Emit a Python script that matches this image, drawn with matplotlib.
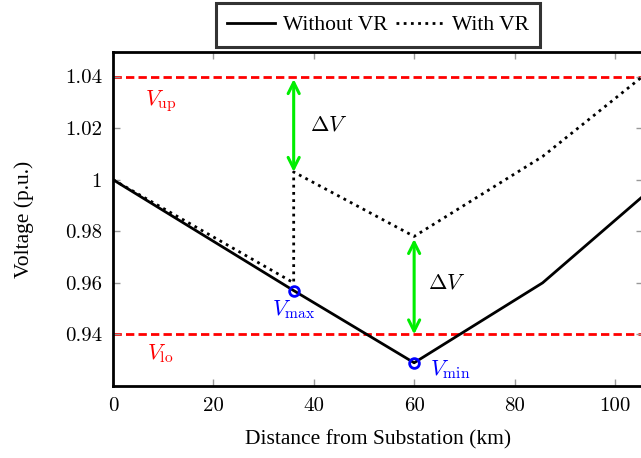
import matplotlib
matplotlib.use("Agg")
import matplotlib.pyplot as plt

plt.rcParams['font.family'] = ['Liberation Serif', 'DejaVu Serif']
plt.rcParams['mathtext.fontset'] = 'cm'

# Data
x_without = [0, 36, 60, 85.6, 110]
v_without = [1.0, 0.957, 0.929, 0.960, 1.001]
x_with = [0, 36, 36, 60, 85.6, 110]
v_with = [1.0, 0.960, 1.003, 0.978, 1.009, 1.047]
v_up = 1.04
v_lo = 0.94
vmax_pt = (36, 0.957)
vmin_pt = (60, 0.929)
xticks = [0, 20, 40, 60, 80, 100]
yticks = [0.94, 0.96, 0.98, 1.0, 1.02, 1.04]
ytick_labels = ['0.94', '0.96', '0.98', '1', '1.02', '1.04']

fig = plt.figure(figsize=(6.41, 4.58), dpi=100)
ax = fig.add_axes([113/641, 1-386/458, 530/641, 334/458])

ax.axhline(v_up, color='red', ls=(0, (3, 1.5)), lw=2, zorder=1)
ax.axhline(v_lo, color='red', ls=(0, (3, 1.5)), lw=2, zorder=1)

l1, = ax.plot(x_without, v_without, color='black', lw=2, label='Without VR', zorder=3)
l2, = ax.plot(x_with, v_with, color='black', lw=2, ls=(0, (1, 1.6)), label='With VR', zorder=3)

ax.plot(*vmax_pt, 'o', ms=7, mfc='none', mec='blue', mew=2, zorder=4)
ax.plot(*vmin_pt, 'o', ms=7, mfc='none', mec='blue', mew=2, zorder=4)

# arrows
arrow_kw = dict(arrowstyle='<->,head_length=0.8,head_width=0.4', color='#00ee00', lw=2.2,
                shrinkA=0, shrinkB=0)
ax.annotate('', xy=(36, 1.039), xytext=(36, 1.003), arrowprops=arrow_kw, zorder=2)
ax.annotate('', xy=(60, 0.977), xytext=(60, 0.940), arrowprops=arrow_kw, zorder=2)
ax.text(39.2, 1.021, r'$\Delta V$', fontsize=16, va='center', ha='left')
ax.text(62.8, 0.9597, r'$\Delta V$', fontsize=16, va='center', ha='left')

ax.text(9.5, 1.0305, r'$V_{\mathrm{up}}$', color='red', fontsize=16, ha='center', va='center')
ax.text(9.5, 0.9325, r'$V_{\mathrm{lo}}$', color='red', fontsize=16, ha='center', va='center')
ax.text(36, 0.9495, r'$V_{\mathrm{max}}$', color='blue', fontsize=16, ha='center', va='center')
ax.text(67.3, 0.9265, r'$V_{\mathrm{min}}$', color='blue', fontsize=16, ha='center', va='center')

ax.set_xlim(0, 105.6)
ax.set_ylim(0.92, 1.0495)
ax.set_xticks(xticks)
ax.set_yticks(yticks)
ax.set_xticklabels([str(t) for t in xticks])
ax.set_yticklabels(ytick_labels)
ax.tick_params(direction='in', color='#999999', length=5, width=1, labelsize=15,
               top=True, right=True, pad=8)
for lab in ax.get_xticklabels() + ax.get_yticklabels():
    lab.set_fontfamily(['cmr10', 'Liberation Serif'])
for s in ax.spines.values():
    s.set_linewidth(2)
    s.set_color('black')

ax.set_xlabel('Distance from Substation (km)', fontsize=15.5, labelpad=11)
ax.set_ylabel('Voltage (p.u.)', fontsize=15.5, labelpad=22)

leg = ax.legend(handles=[l1, l2], loc='lower center', bbox_to_anchor=(0.5, 1.015), ncol=2,
                fontsize=15.5, frameon=True, fancybox=False, edgecolor='black',
                handlelength=2.2, columnspacing=0.35, handletextpad=0.4,
                borderpad=0.55, borderaxespad=0)
leg.get_frame().set_linewidth(2.2)

fig.savefig('out.png', dpi=100)
